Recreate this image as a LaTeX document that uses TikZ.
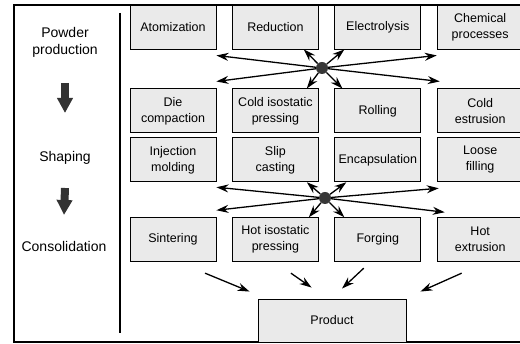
\documentclass[tikz,border=0pt]{standalone}
\usepackage{fontspec}
\setmainfont{Liberation Sans}
\usetikzlibrary{arrows.meta,positioning}
\definecolor{boxgray}{RGB}{234,234,234}
\definecolor{hubgray}{RGB}{55,55,55}

\begin{document}
\begin{tikzpicture}[x=1pt, y=-1pt, node distance=15.5pt,
  stage/.style={draw, line width=0.9pt, fill=boxgray, minimum width=86pt, minimum height=44pt, inner sep=1pt, align=center, font=\fontsize{12.5}{16}\selectfont},
  hub/.style={circle, fill=hubgray, minimum size=12pt, inner sep=0pt},
  spoke/.style={-{Stealth[length=12pt,width=8pt]}, line width=1.3pt},
  fatarrow/.style={line width=8pt, draw=black!80, -{Triangle[width=15pt,length=15pt]}},
  phase/.style={align=center, font=\fontsize{14}{17}\selectfont}]
  \useasboundingbox (0,0) rectangle (520,344);
  \draw[line width=1.3pt] (14,5) rectangle (524,342);
  \draw[line width=1.3pt] (120,13) -- (120,333);

  % process stages
  \node[phase] (powder) at (65,42) {Powder\\production};
  \node[phase] (shaping) at (65,158) {Shaping};
  \node[phase] (consol) at (64,246) {Consolidation};
  \draw[fatarrow] ([yshift=-41pt]powder.center) -- ([yshift=45pt]shaping.center);
  \draw[fatarrow] ([yshift=-30pt]shaping.center) -- ([yshift=31pt]consol.center);

  % powder production
  \node[stage] (atom) at (173,27) {Atomization};
  \node[stage, right=of atom] (red) {Reduction};
  \node[stage, right=of red] (elec) {Electrolysis};
  \node[stage, right=of elec] (chem) {Chemical\\processes};

  % shaping
  \node[stage, below=39pt of atom] (die) {Die\\compaction};
  \node[stage, right=of die] (cip) {Cold isostatic\\pressing};
  \node[stage, right=of cip] (roll) {Rolling};
  \node[stage, right=of roll] (cext) {Cold\\estrusion};
  \node[stage, below=4pt of die] (inj) {Injection\\molding};
  \node[stage, right=of inj] (slip) {Slip\\casting};
  \node[stage, right=of slip] (enc) {Encapsulation};
  \node[stage, right=of enc] (loose) {Loose\\filling};

  % consolidation
  \node[stage, below=35pt of inj] (sint) {Sintering};
  \node[stage, right=of sint] (hip) {Hot isostatic\\pressing};
  \node[stage, right=of hip] (forg) {Forging};
  \node[stage, right=of forg] (hext) {Hot\\extrusion};

  \node[stage, minimum width=148pt, minimum height=43pt] (prod) at (332,320.5) {Product};

  % hubs
  \node[hub] (hubA) at (322,68) {};
  \node[hub] (hubB) at (325,198) {};

  \draw[spoke] (hubA) -- ([yshift=-6pt]atom.south east);
  \draw[spoke] (hubA) -- ([yshift=7pt]die.north east);
  \draw[spoke] (hubA) -- ([xshift=-15pt]red.south east);
  \draw[spoke] (hubA) -- ([xshift=10pt]elec.south west);
  \draw[spoke] (hubA) -- ([yshift=-6pt]chem.south west);
  \draw[spoke] (hubA) -- ([xshift=3pt,yshift=7pt]cext.north west);
  \draw[spoke] (hubA) -- ([xshift=-12pt]cip.north east);
  \draw[spoke] (hubA) -- ([xshift=8pt]roll.north west);

  \draw[spoke] (hubB) -- ([yshift=-5pt]inj.south east);
  \draw[spoke] (hubB) -- ([yshift=7pt]sint.north east);
  \draw[spoke] (hubB) -- ([xshift=-12pt]slip.south east);
  \draw[spoke] (hubB) -- ([xshift=12pt]enc.south west);
  \draw[spoke] (hubB) -- ([xshift=2pt,yshift=-6pt]loose.south west);
  \draw[spoke] (hubB) -- ([xshift=8pt,yshift=5pt]hext.north west);
  \draw[spoke] (hubB) -- ([xshift=-10pt]hip.north east);
  \draw[spoke] (hubB) -- ([xshift=10pt]forg.north west);

  % to product
  \draw[spoke] ([shift={(32pt,-11pt)}]sint.south) -- ([shift={(-8pt,7pt)}]prod.north west);
  \draw[spoke] ([shift={(15.5pt,-11pt)}]hip.south) -- ([shift={(54pt,11pt)}]prod.north west);
  \draw[spoke] ([shift={(-14pt,-6pt)}]forg.south) -- ([shift={(10pt,10pt)}]prod.north);
  \draw[spoke] ([shift={(-18.5pt,-11pt)}]hext.south) -- ([shift={(14pt,7pt)}]prod.north east);
\end{tikzpicture}
\end{document}
